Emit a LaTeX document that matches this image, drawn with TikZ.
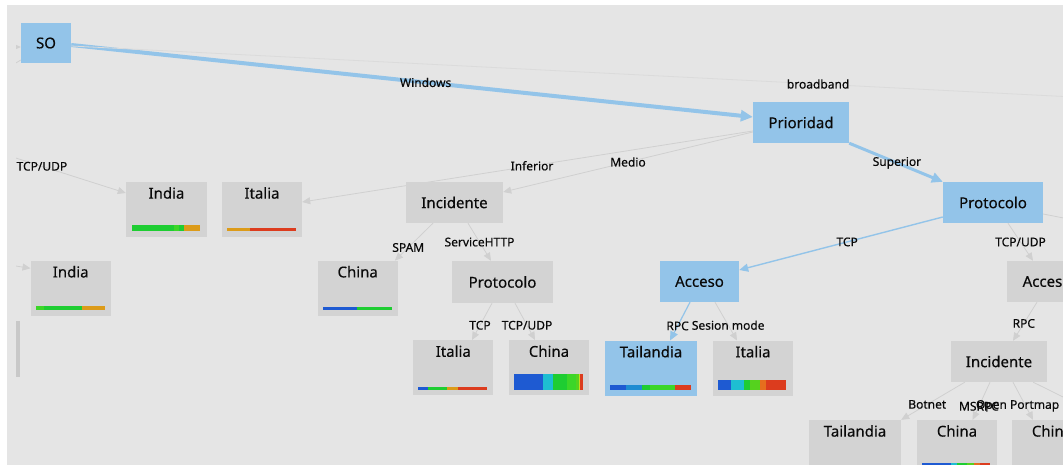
\documentclass[tikz,border=0pt]{standalone}
\usepackage{fontspec}
\setmainfont{Noto Sans}[UprightFeatures={FakeBold=0.3}]
\usetikzlibrary{arrows.meta,calc}

\definecolor{bgc}{HTML}{E5E5E5}
\definecolor{boxblue}{HTML}{93C4E9}
\definecolor{boxgrey}{HTML}{D3D3D3}
\definecolor{edgegrey}{HTML}{D0D0D0}
\definecolor{faintgrey}{HTML}{DBDBDB}
\definecolor{inkc}{HTML}{0A0A0A}
\definecolor{cblue}{HTML}{1E5AD2}
\definecolor{cmid}{HTML}{1E8CD2}
\definecolor{ccyan}{HTML}{1EBED2}
\definecolor{cgreen}{HTML}{1ECD32}
\definecolor{cgreenb}{HTML}{3CD628}
\definecolor{clime}{HTML}{55D21E}
\definecolor{cyellow}{HTML}{C8DC1E}
\definecolor{camber}{HTML}{DC9B19}
\definecolor{corange}{HTML}{E66E1E}
\definecolor{cred}{HTML}{DC3C1E}

\pgfdeclarelayer{bg}
\pgfdeclarelayer{edges}
\pgfsetlayers{bg,edges,main}

\tikzset{
  inner/.style={rectangle, inner sep=0pt, minimum height=41pt, text=inkc,
    font=\fontsize{15}{18}\selectfont},
  chosen/.style={inner, fill=boxblue},
  plain/.style={inner, fill=boxgrey},
  leaf/.style={rectangle, inner sep=0pt, fill=boxgrey, minimum width=80pt,
    minimum height=55pt},
  leaftext/.style={anchor=base, yshift=-16.8pt, inner sep=0pt, text=inkc,
    font=\fontsize{15}{18}\selectfont},
  link/.style={draw=edgegrey, line width=0.8pt,
    -{Triangle[length=8pt,width=7pt]}},
  bluepath/.style={draw=boxblue},
  elabel/.style={inner sep=0pt, text=inkc, font=\fontsize{12}{14}\selectfont},
  blabel/.style={elabel, font=\fontsize{12}{14}\selectfont\bfseries}
}

% coloured bar at the foot of a leaf: node, top and bottom offset, colour/x0/x1
\newcommand{\leafbar}[4]{%
  \foreach \col/\xa/\xb in {#4}
    \fill[\col] ($(#1.south west)+(\xa,-#2)$) rectangle ($(#1.south west)+(\xb,-#3)$);
}

\begin{document}
\begin{tikzpicture}[x=1pt,y=-1pt]
  \useasboundingbox (0,0) rectangle (1063,465);
  \clip (0,0) rectangle (1063,465);

  \begin{pgfonlayer}{bg}
    \fill[white] (0,0) rectangle (1063,465);
    \fill[bgc] (7,5) rectangle (1063,465);
  \end{pgfonlayer}

  % inner nodes
  \node[chosen, minimum width=50pt, minimum height=40pt] (so) at (46,43) {SO};
  \node[chosen, minimum width=96pt] (prio) at (801,122.5) {Prioridad};
  \node[chosen, minimum width=100pt] (protoB) at (993,202.5) {Protocolo};
  \node[plain, minimum width=97pt] (incL) at (454.5,202.5) {Incidente};
  \node[plain, minimum width=101pt, minimum height=42pt] (protoG) at (502.5,282) {Protocolo};
  \node[chosen, minimum width=79pt] (accB) at (699.5,281.5) {Acceso};
  \node[plain, minimum width=80pt] (accG) at (1047,281.5) {Acceso};
  \node[plain, minimum width=96pt] (incR) at (999,361.5) {Incidente};

  % leaves
  \node[leaf, minimum width=81pt, label={[leaftext]north:India}] (indiaA) at (166.5,209.5) {};
  \node[leaf, label={[leaftext]north:Italia}] (italiaA) at (262,209.5) {};
  \node[leaf, label={[leaftext]north:India}] (indiaB) at (70.7,288.3) {};
  \node[leaf, label={[leaftext]north:China}] (chinaA) at (357.7,288.3) {};
  \node[leaf, label={[leaftext]north:Italia}] (italiaB) at (453.3,367.7) {};
  \node[leaf, label={[leaftext]north:China}] (chinaB) at (549,367.7) {};
  \node[leaf, fill=boxblue, minimum width=92pt, label={[leaftext]north:Tailandia}] (tailA) at (651,368.2) {};
  \node[leaf, label={[leaftext]north:Italia}] (italiaC) at (753,368.2) {};
  \node[leaf, minimum width=92pt, label={[leaftext]north:Tailandia}] (tailB) at (855,447.5) {};
  \node[leaf, label={[leaftext]north:China}] (chinaC) at (957,447.5) {};
  \node[leaf, label={[leaftext]north:China}] (chinaD) at (1052,447.5) {};
  \node[leaf, fill=boxgrey!95!black, minimum width=4pt, minimum height=56pt] (partial) at (18,349) {};

  \leafbar{indiaA}{11.7}{6.3}{cgreen/5.7/48, cgreenb/48/53.3, cgreen/53.3/58.3, camber/58.3/74}
  \leafbar{italiaA}{8.7}{6.3}{camber/5/28, cred/28/74}
  \leafbar{indiaB}{10.3}{6}{cgreenb/5/13, cgreen/13/51, camber/51/74}
  \leafbar{chinaA}{8.7}{6}{cblue/5/39.6, cgreen/39.6/74}
  \leafbar{italiaB}{8.7}{5.3}{cblue/5/14.7, cgreen/14.7/34.3, camber/34.3/44.7, cred/44.7/74.3}
  \leafbar{chinaB}{21}{5.7}{cblue/5.3/33.7, ccyan/33.7/44.3, cgreen/44.3/57.7, cgreenb/57.7/67, clime/67/70, cyellow/70/71, cred/71/74.3}
  \leafbar{tailA}{10.7}{6.4}{cblue/5/21, cmid/21/37.3, cgreen/37.3/45, cgreenb/45/70, cred/70/86}
  \leafbar{italiaC}{16.4}{6.4}{cblue/5/17.7, ccyan/17.7/31, cgreen/31/36.7, clime/36.7/46.7, corange/46.7/52.7, cred/52.7/73.4}
  \leafbar{chinaC}{12}{6}{cblue/4.7/33.7, ccyan/33.7/39.7, cgreen/39.7/50.3, clime/50.3/57, corange/57/63, cred/63/73}

  % ends of edges outside the view
  \coordinate (offA) at (1565,122);
  \coordinate (offB) at (-100,47);
  \coordinate (offC) at (-40,97);
  \coordinate (offD) at (-42,139.6);
  \coordinate (offE) at (-120,245);
  \coordinate (offF) at (1200,245);
  \coordinate (offG) at (1150,440);

  \begin{pgfonlayer}{edges}
    \clip (16,0) rectangle (1063,465);
    \draw[bluepath, line width=4pt, -{Triangle[length=12pt,width=11pt]}]
      ([yshift=-2pt]so.east) -- node[blabel, pos=0.52] {Windows} ([yshift=5.5pt]prio.west);
    \draw[draw=faintgrey, line width=0.8pt] ([yshift=-3pt]so.east) -- node[elabel] {broadband} (offA);
    \draw[link] (offB) -- ([yshift=-4pt]so.west);
    \draw[draw=edgegrey, line width=0.8pt] (offC) -- ([yshift=-17pt]so.west);
    \draw[link] (offD) -- node[elabel] {TCP/UDP} ([yshift=16.5pt]indiaA.west);
    \draw[link] (offE) -- ([yshift=20pt]indiaB.west);

    \draw[link] ([yshift=-8.5pt]prio.west) -- node[elabel, pos=0.49] {Inferior} ([yshift=7.5pt]italiaA.east);
    \draw[link] ([yshift=-9.5pt]prio.west) -- node[elabel] {Medio} ([yshift=10.5pt]incL.east);
    \draw[bluepath, line width=3pt, -{Triangle[length=11pt,width=10pt]}]
      (prio.south east) -- node[blabel, pos=0.51] {Superior} (protoB.north west);

    \draw[bluepath, line width=1.4pt, -{Triangle[length=9pt,width=8pt]}]
      ([yshift=-14.5pt]protoB.west) -- node[blabel, pos=0.47] {TCP} ([yshift=11.5pt]accB.east);
    \draw[link] ([xshift=15pt]protoB.south) -- node[elabel] {TCP/UDP} ([xshift=-14pt]accG.north);
    \draw[link] ([yshift=-11.5pt]protoB.east) -- (offF);

    \draw[link] ([xshift=-21.5pt]incL.south) -- node[elabel, pos=0.65] {SPAM} ([xshift=-3pt]chinaA.north east);
    \draw[link] ([xshift=13.5pt]incL.south) -- node[elabel] {ServiceHTTP} ([xshift=-11.5pt]protoG.north);
    \draw[link] ([xshift=-10.5pt]protoG.south) -- node[elabel, pos=0.6] {TCP} ([xshift=18.7pt]italiaB.north);
    \draw[link] ([xshift=12.5pt]protoG.south) -- node[elabel, pos=0.6] {TCP/UDP} ([xshift=-14pt]chinaB.north);

    \draw[bluepath, line width=1.2pt, -{Triangle[length=9pt,width=8pt]}]
      ([xshift=-9.5pt]accB.south) -- node[blabel, pos=0.62] {RPC} ([xshift=19pt]tailA.north);
    \draw[link] ([xshift=15.5pt]accB.south) -- node[elabel, pos=0.6] {Sesion mode} ([xshift=-16pt]italiaC.north);
    \draw[link] ([xshift=-10pt]accG.south) -- node[elabel, pos=0.55] {RPC} ([xshift=14pt]incR.north);

    \draw[link] ([xshift=14pt]incR.south west) -- node[elabel, pos=0.59] {Botnet} (tailB.north east);
    \draw[link] ([xshift=-9pt]incR.south) -- node[elabel, pos=0.64] {MSRPC} ([xshift=15.7pt]chinaC.north);
    \draw[link] ([xshift=14pt]incR.south) -- node[elabel, pos=0.63, xshift=-8pt] {Open Portmap} ([xshift=-19pt]chinaD.north);
    \draw[link] ([xshift=-14pt]incR.south east) -- (offG);
  \end{pgfonlayer}
\end{tikzpicture}
\end{document}
